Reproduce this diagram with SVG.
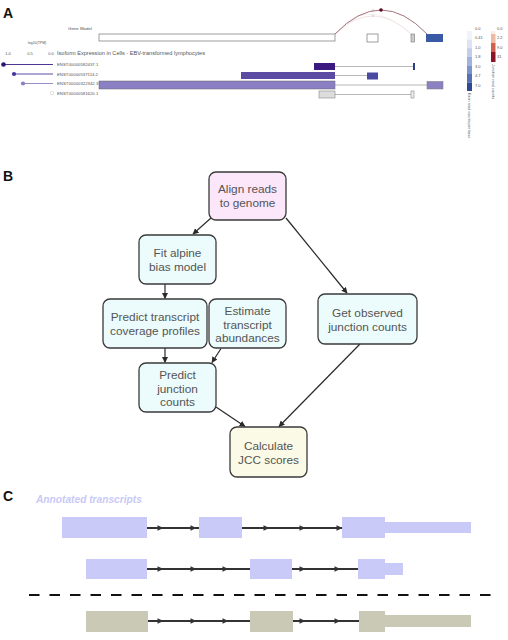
<svg xmlns="http://www.w3.org/2000/svg" width="508" height="640" viewBox="0 0 508 640">
<style>
.pl{font-family:"Liberation Sans",Arial,sans-serif;font-weight:bold;font-size:14px;fill:#111}
.sa{font-family:"Liberation Sans",Arial,sans-serif;fill:#555}
.nt{font-family:"Liberation Sans",Arial,sans-serif;font-size:11.8px;fill:#555;text-anchor:middle}
.box{stroke:#3a3a3a;stroke-width:1.3}
.cy{fill:#ecfbfb}
.conn{stroke:#2a2a2a;stroke-width:1.2;fill:none;marker-end:url(#ah)}
.tl{stroke:#333;stroke-width:1.8}
.lav{fill:#cacaf8}
.olv{fill:#c9c9b6}
.gl{stroke:#888;stroke-width:0.6}
</style>
<defs>
<marker id="ah" viewBox="0 0 10 10" refX="9" refY="5" markerWidth="6" markerHeight="6" markerUnits="userSpaceOnUse" orient="auto">
<path d="M0,0 L10,5 L0,10 Z" fill="#2a2a2a"/>
</marker>
<path id="ta" d="M-4.5,-2.8 L1.5,0 L-4.5,2.8 Z" fill="#333"/>
</defs>
<rect width="508" height="640" fill="#fff"/>

<!-- Panel A -->
<g id="panelA">
<text class="pl" x="3" y="18">A</text>
<text class="sa" x="68" y="29.5" font-size="4.4">Gene Model</text>
<rect x="99" y="34" width="236" height="7" fill="#fff" stroke="#777" stroke-width="0.7"/>
<path d="M335,34 Q373,-2 411,34" fill="none" stroke="#f0dcdc" stroke-width="0.8"/>
<path d="M345,24 Q373,0 411,34" fill="none" stroke="#f2e4e4" stroke-width="0.6"/>
<circle cx="373" cy="16" r="1.3" fill="#ddd"/>
<circle cx="373" cy="10" r="1.2" fill="#f3dede"/>
<path d="M335,34 Q381,-14 427,34" fill="none" stroke="#8a5058" stroke-width="0.8"/>
<circle cx="381" cy="10" r="1.8" fill="#5a0a20"/>
<rect x="367" y="34" width="11" height="8" fill="#fff" stroke="#777" stroke-width="0.7"/>
<rect x="411" y="34" width="3.5" height="8" fill="#ccc" stroke="#777" stroke-width="0.6"/>
<rect x="426" y="34" width="17" height="8" fill="#3b5aa6"/>

<text class="sa" x="28" y="44" font-size="3.5">log10(TPM)</text>
<text class="sa" x="8" y="54.5" font-size="4" text-anchor="middle" fill="#aaa">1.0</text>
<text class="sa" x="30" y="54.5" font-size="4" text-anchor="middle" fill="#aaa">0.5</text>
<text class="sa" x="51" y="54.5" font-size="4" text-anchor="middle" fill="#aaa">0.0</text>
<text class="sa" x="57" y="55" font-size="5.6">Isoform Expression in Cells - EBV-transformed lymphocytes</text>

<g id="iso1">
<line x1="3.5" y1="64.5" x2="53" y2="64.5" stroke="#3d2080" stroke-width="0.9"/>
<circle cx="3.5" cy="64.5" r="2.3" fill="#2e1470"/>
<text class="sa" x="57" y="66" font-size="4.3">ENST00000582437.1</text>
<rect x="314" y="63" width="21" height="7" fill="#3a1a80"/>
<line x1="335" y1="66.5" x2="413" y2="66.5" class="gl"/>
<rect x="413" y="63" width="2" height="7" fill="#2c3e8a"/>
</g>
<g id="iso2">
<line x1="14" y1="74" x2="53" y2="74" stroke="#4a3a98" stroke-width="0.9"/>
<circle cx="14" cy="74" r="2.1" fill="#4434a0"/>
<text class="sa" x="57" y="75.5" font-size="4.3">ENST00000537114.2</text>
<rect x="241" y="72" width="94" height="7" fill="#5b4ba3"/>
<line x1="335" y1="75.5" x2="367" y2="75.5" class="gl"/>
<rect x="367" y="72.5" width="11" height="7" fill="#4a4aa2"/>
</g>
<g id="iso3">
<line x1="23" y1="83.5" x2="53" y2="83.5" stroke="#8a80c0" stroke-width="0.9"/>
<circle cx="23" cy="83.5" r="2.1" fill="#8a80c0"/>
<text class="sa" x="57" y="85" font-size="4.3">ENST00000322342.3</text>
<rect x="99" y="81" width="236" height="8" fill="#8a7fc2" stroke="#666" stroke-width="0.5"/>
<line x1="335" y1="85" x2="427" y2="85" class="gl"/>
<rect x="427" y="81.5" width="16" height="7.5" fill="#8c82c2" stroke="#777" stroke-width="0.5"/>
</g>
<g id="iso4">
<circle cx="52" cy="93" r="1.8" fill="#fff" stroke="#ccc" stroke-width="0.6"/>
<text class="sa" x="57" y="95" font-size="4.3">ENST00000581620.1</text>
<rect x="319" y="91" width="16" height="7" fill="#ddd" stroke="#888" stroke-width="0.6"/>
<line x1="335" y1="94.5" x2="411" y2="94.5" class="gl"/>
<rect x="411" y="91" width="3" height="7" fill="#eee" stroke="#888" stroke-width="0.6"/>
</g>

<g id="legendExon">
<rect x="467" y="31" width="5" height="8.6" fill="#f1f3fb"/>
<rect x="467" y="39.6" width="5" height="8.6" fill="#dde3f3"/>
<rect x="467" y="48.2" width="5" height="8.6" fill="#c3cde9"/>
<rect x="467" y="56.8" width="5" height="8.6" fill="#a2b2dc"/>
<rect x="467" y="65.4" width="5" height="8.6" fill="#7d93cb"/>
<rect x="467" y="74" width="5" height="8.6" fill="#5871b5"/>
<rect x="467" y="82.6" width="5" height="8.4" fill="#2f4a92"/>
<g class="sa" font-size="4">
<text x="475" y="29.5">0.0</text>
<text x="475" y="39">0.41</text>
<text x="475" y="48.5">1.0</text>
<text x="475" y="58">1.8</text>
<text x="475" y="67.5">3.0</text>
<text x="475" y="77">4.7</text>
<text x="475" y="86.5">7.0</text>
</g>
<text class="sa" font-size="3.8" transform="translate(467.5,93) rotate(90)">Exon read counts per base</text>
</g>
<g id="legendJunction">
<rect x="491" y="31" width="4.5" height="3" fill="#fbeee8"/>
<rect x="491" y="34" width="4.5" height="9" fill="#eeb8a2"/>
<rect x="491" y="43" width="4.5" height="9" fill="#d2604e"/>
<rect x="491" y="52" width="4.5" height="10" fill="#8c1426"/>
<g class="sa" font-size="4">
<text x="497" y="29.5">0.0</text>
<text x="497" y="39">2.2</text>
<text x="497" y="48.5">9.0</text>
<text x="497" y="58">31</text>
</g>
<text class="sa" font-size="3.8" transform="translate(491.5,64) rotate(90)">Junction read counts</text>
</g>
</g>

<!-- Panel B -->
<text class="pl" x="3" y="181">B</text>
<g id="connectors">
<path class="conn" d="M211,218 L193,234"/>
<path class="conn" d="M286,218 L347,293"/>
<path class="conn" d="M165,284 L165,298.5"/>
<path class="conn" d="M165,348 L165,362.5"/>
<path class="conn" d="M221,348.5 L212,362.5"/>
<path class="conn" d="M216,407 L245,426.5"/>
<path class="conn" d="M360,344 L279,426.5"/>
</g>
<g id="align">
<rect class="box" x="209" y="172" width="77" height="48" rx="7" fill="#fbe6fa"/>
<text class="nt" x="247.5" y="193">Align reads</text>
<text class="nt" x="247.5" y="207">to genome</text>
</g>
<g id="fit">
<rect class="box cy" x="139" y="235" width="77" height="49" rx="7"/>
<text class="nt" x="177.5" y="257">Fit alpine</text>
<text class="nt" x="177.5" y="271">bias model</text>
</g>
<g id="predictCov">
<rect class="box cy" x="103" y="299" width="104" height="49" rx="7"/>
<text class="nt" x="155" y="321">Predict transcript</text>
<text class="nt" x="155" y="335">coverage profiles</text>
</g>
<g id="estimate">
<rect class="box cy" x="209" y="299" width="77" height="49" rx="7"/>
<text class="nt" x="247.5" y="315">Estimate</text>
<text class="nt" x="247.5" y="328.5">transcript</text>
<text class="nt" x="247.5" y="342">abundances</text>
</g>
<g id="observed">
<rect class="box cy" x="318" y="294" width="99" height="50" rx="7"/>
<text class="nt" x="367.5" y="317">Get observed</text>
<text class="nt" x="367.5" y="331">junction counts</text>
</g>
<g id="predictJunc">
<rect class="box cy" x="139" y="363" width="77" height="49" rx="7"/>
<text class="nt" x="177.5" y="378.5">Predict</text>
<text class="nt" x="177.5" y="392.5">junction</text>
<text class="nt" x="177.5" y="406">counts</text>
</g>
<g id="jcc">
<rect class="box" x="230" y="427" width="77" height="50" rx="7" fill="#fbfae6"/>
<text class="nt" x="268.5" y="450">Calculate</text>
<text class="nt" x="268.5" y="464">JCC scores</text>
</g>

<!-- Panel C -->
<g id="panelC">
<text class="pl" x="3" y="501">C</text>
<text x="36" y="503" font-family="'Liberation Sans',Arial,sans-serif" font-size="10.2" font-weight="bold" font-style="italic" fill="#c9c9f6">Annotated transcripts</text>
<g id="tx1">
<line class="tl" x1="147" y1="528" x2="342" y2="528"/>
<rect class="lav" x="62" y="517" width="85" height="21"/>
<rect class="lav" x="199" y="517" width="43" height="21"/>
<rect class="lav" x="342" y="517" width="43" height="21"/>
<rect class="lav" x="385" y="522" width="86" height="11"/>
<use href="#ta" x="162" y="528"/><use href="#ta" x="195" y="528"/>
<use href="#ta" x="268" y="528"/><use href="#ta" x="304" y="528"/><use href="#ta" x="341" y="528"/>
</g>
<g id="tx2">
<line class="tl" x1="147" y1="569" x2="358" y2="569"/>
<rect class="lav" x="86" y="559" width="61" height="20"/>
<rect class="lav" x="250" y="559" width="42" height="20"/>
<rect class="lav" x="358" y="559" width="27" height="20"/>
<rect class="lav" x="385" y="563" width="18" height="12"/>
<use href="#ta" x="162" y="569"/><use href="#ta" x="195" y="569"/><use href="#ta" x="227" y="569"/>
<use href="#ta" x="304" y="569"/><use href="#ta" x="339" y="569"/>
</g>
<line x1="29" y1="595" x2="491" y2="595" stroke="#111" stroke-width="2" stroke-dasharray="10.5,10"/>
<g id="tx3">
<line class="tl" x1="148" y1="621" x2="359" y2="621"/>
<rect class="olv" x="86" y="611" width="62" height="21"/>
<rect class="olv" x="250" y="611" width="43" height="21"/>
<rect class="olv" x="359" y="611" width="26" height="21"/>
<rect class="olv" x="385" y="615" width="86" height="12"/>
<use href="#ta" x="162" y="621"/><use href="#ta" x="195" y="621"/><use href="#ta" x="227" y="621"/>
<use href="#ta" x="304" y="621"/><use href="#ta" x="339" y="621"/>
</g>
</g>
</svg>
